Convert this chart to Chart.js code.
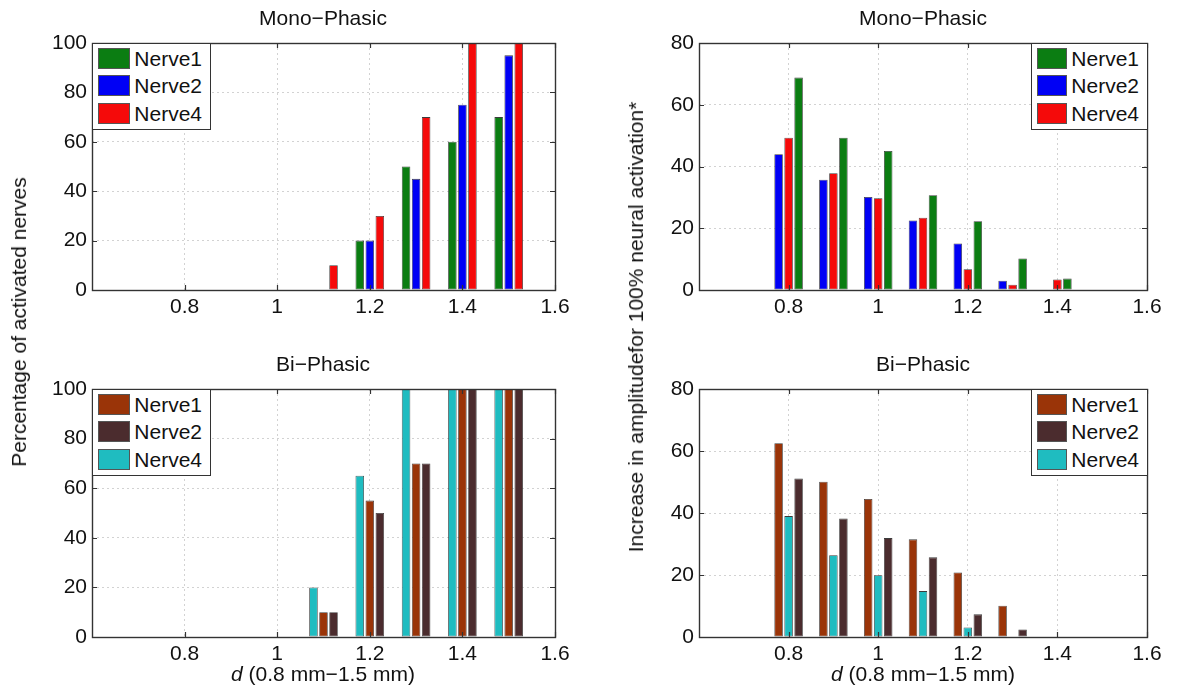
<!DOCTYPE html>
<html>
<head>
<meta charset="utf-8">
<script src="https://cdn.jsdelivr.net/npm/chart.js@4.4.1/dist/chart.umd.min.js"></script>
<style>
    body { margin: 0; background: #fff; font-family: "Liberation Sans", Helvetica, Arial, sans-serif; color: #111; }
    #page { position: relative; width: 1188px; height: 696px; overflow: hidden; }
    .panel { position: absolute; }
    .txt { position: absolute; font-size: 21px; line-height: 24px; white-space: nowrap; transform: translateX(-50%); }
    .ylab { position: absolute; font-size: 21px; line-height: 24px; white-space: nowrap; transform: translate(-50%, -50%) rotate(-90deg); }
    .legend { position: absolute; border: 1px solid #333; background: #fff; padding: 4px 8px 0 5px; box-sizing: border-box; }
    .legend .row { height: 27.3px; display: flex; align-items: flex-start; font-size: 21px; line-height: 21px; }
    .legend .sw { width: 33px; height: 21px; box-sizing: border-box; border: 1px solid #555; margin-right: 4px; }
</style>
</head>
<body>
<div id="page">
    <div class="panel" style="left:30px; top:25px;"><canvas id="monoPct" width="547" height="295"></canvas></div>
    <div class="panel" style="left:640px; top:25px;"><canvas id="monoAmp" width="529" height="295"></canvas></div>
    <div class="panel" style="left:30px; top:371px;"><canvas id="biPct" width="547" height="296"></canvas></div>
    <div class="panel" style="left:640px; top:371px;"><canvas id="biAmp" width="529" height="296"></canvas></div>

    <div class="txt" style="left:323px; top:6px;">Mono&minus;Phasic</div>
    <div class="txt" style="left:923px; top:6px;">Mono&minus;Phasic</div>
    <div class="txt" style="left:323px; top:352px;">Bi&minus;Phasic</div>
    <div class="txt" style="left:923px; top:352px;">Bi&minus;Phasic</div>

    <div class="txt" style="left:323px; top:662px;"><i>d</i> (0.8 mm&minus;1.5 mm)</div>
    <div class="txt" style="left:923px; top:662px;"><i>d</i> (0.8 mm&minus;1.5 mm)</div>

    <div class="ylab" style="left:19px; top:322px;">Percentage of activated nerves</div>
    <div class="ylab" style="left:636px; top:327px;">Increase in amplitudefor 100% neural activation*</div>

    <div class="legend" id="leg-monoPct" style="left:92px; top:43px; width:119px; height:87px;"></div>
    <div class="legend" id="leg-monoAmp" style="left:1031px; top:43px; width:117px; height:87px;"></div>
    <div class="legend" id="leg-biPct" style="left:92px; top:389px; width:119px; height:87px;"></div>
    <div class="legend" id="leg-biAmp" style="left:1031px; top:389px; width:117px; height:87px;"></div>
</div>

<script>
// electrode spacing d, group centres
const dValues = [0.7, 0.8, 0.9, 1.0, 1.1, 1.2, 1.3, 1.4, 1.5];
const xTicks = [0.8, 1.0, 1.2, 1.4, 1.6];
const xTickLabels = ['0.8', '1', '1.2', '1.4', '1.6'];
const pctTicks = [0, 20, 40, 60, 80, 100];
const ampTicks = [0, 20, 40, 60, 80];

// percentage of activated nerves
const monoPctNerve1 = [0, 0, 0, 0, 0, 20, 50, 60, 70];
const monoPctNerve2 = [0, 0, 0, 0, 0, 20, 45, 75, 95];
const monoPctNerve4 = [0, 0, 0, 0, 10, 30, 70, 100, 100];
const biPctNerve1 = [0, 0, 0, 0, 10, 55, 70, 100, 100];
const biPctNerve2 = [0, 0, 0, 0, 10, 50, 70, 100, 100];
const biPctNerve4 = [0, 0, 0, 0, 20, 65, 100, 100, 100];

// increase in amplitude for 100% activation
const monoAmpNerve1 = [0, 68.8, 49.3, 45.0, 30.7, 22.3, 10.2, 3.7, 0];
const monoAmpNerve2 = [0, 44.0, 35.7, 30.1, 22.5, 15.1, 3.0, 0, 0];
const monoAmpNerve4 = [0, 49.3, 37.8, 29.7, 23.4, 6.7, 1.7, 3.4, 0];
const biAmpNerve1 = [0, 62.5, 50.1, 44.5, 31.5, 20.8, 10.1, 0, 0];
const biAmpNerve2 = [0, 51.1, 38.2, 31.9, 25.7, 7.3, 2.4, 0, 0];
const biAmpNerve4 = [0, 39.0, 26.4, 19.9, 14.8, 3.1, 0, 0, 0];

const GREEN = '#0b7d12', BLUE = '#0000f5', RED = '#f50a0a';
const BROWN = '#9a3408', DARK = '#4b2c2e', CYAN = '#1fbcc0';

Chart.defaults.font.family = '"Liberation Sans", Helvetica, Arial, sans-serif';
Chart.defaults.font.size = 21;
Chart.defaults.color = '#111';

// box around the plot plus small inward tick marks, like matlab
const boxPlugin = {
    id: 'boxPlugin',
    afterDatasetsDraw(chart) {
        const ctx = chart.ctx;
        const a = chart.chartArea;
        const x = chart.scales.x, y = chart.scales.y;
        ctx.save();
        ctx.strokeStyle = '#333';
        ctx.lineWidth = 1.2;
        ctx.beginPath();
        x.ticks.forEach(t => {
            const px = Math.round(x.getPixelForValue(t.value)) + 0.5;
            ctx.moveTo(px, a.bottom); ctx.lineTo(px, a.bottom - 5);
            ctx.moveTo(px, a.top); ctx.lineTo(px, a.top + 5);
        });
        y.ticks.forEach(t => {
            const py = Math.round(y.getPixelForValue(t.value)) + 0.5;
            ctx.moveTo(a.left, py); ctx.lineTo(a.left + 5, py);
            ctx.moveTo(a.right, py); ctx.lineTo(a.right - 5, py);
        });
        ctx.stroke();
        ctx.lineWidth = 1.4;
        ctx.strokeRect(Math.round(a.left) + 0.5, Math.round(a.top) + 0.5,
            Math.round(a.right - a.left), Math.round(a.bottom - a.top));
        ctx.restore();
    }
};

function series(label, values, color) {
    return {
        label: label,
        data: dValues.map((d, i) => ({ x: d, y: values[i] })),
        backgroundColor: color,
        borderColor: '#3c3c3c',
        borderWidth: 0.8,
        borderSkipped: false
    };
}

function buildLegend(id, datasets) {
    const box = document.getElementById(id);
    const sorted = datasets.slice().sort((a, b) => a.label.localeCompare(b.label));
    sorted.forEach(ds => {
        const row = document.createElement('div');
        row.className = 'row';
        row.innerHTML = `<div class="sw" style="background:${ds.backgroundColor}"></div><span>${ds.label}</span>`;
        box.appendChild(row);
    });
}

function makeChart(id, datasets, yMax, yTicks, yAxisWidth, catPct) {
    buildLegend('leg-' + id, datasets);
    const ctx = document.getElementById(id).getContext('2d');
    return new Chart(ctx, {
        type: 'bar',
        data: { datasets: datasets },
        options: {
            responsive: false,
            animation: false,
            events: [],
            categoryPercentage: catPct,
            barPercentage: 0.85,
            layout: { padding: { top: 18, right: 22, left: 0, bottom: 0 } },
            plugins: { legend: { display: false }, tooltip: { enabled: false } },
            scales: {
                x: {
                    type: 'linear',
                    min: 0.6,
                    max: 1.6,
                    offset: false,
                    grid: { offset: false, color: '#d2d2d2', lineWidth: 1, drawTicks: false },
                    border: { display: false, dash: [2, 3] },
                    afterBuildTicks: scale => { scale.ticks = xTicks.map(v => ({ value: v })); },
                    afterFit: scale => { scale.height = 30; },
                    ticks: {
                        padding: 5,
                        maxRotation: 0,
                        callback: (value, index) => xTickLabels[index]
                    }
                },
                y: {
                    min: 0,
                    max: yMax,
                    grid: { color: '#d2d2d2', lineWidth: 1, drawTicks: false },
                    border: { display: false, dash: [2, 3] },
                    afterBuildTicks: scale => { scale.ticks = yTicks.map(v => ({ value: v })); },
                    afterFit: scale => { scale.width = yAxisWidth; },
                    ticks: { padding: 5, callback: value => String(value) }
                }
            }
        },
        plugins: [boxPlugin]
    });
}

makeChart('monoPct', [
    series('Nerve1', monoPctNerve1, GREEN),
    series('Nerve2', monoPctNerve2, BLUE),
    series('Nerve4', monoPctNerve4, RED)
], 100, pctTicks, 62, 0.65);

makeChart('monoAmp', [
    series('Nerve2', monoAmpNerve2, BLUE),
    series('Nerve4', monoAmpNerve4, RED),
    series('Nerve1', monoAmpNerve1, GREEN)
], 80, ampTicks, 59, 0.67);

makeChart('biPct', [
    series('Nerve4', biPctNerve4, CYAN),
    series('Nerve1', biPctNerve1, BROWN),
    series('Nerve2', biPctNerve2, DARK)
], 100, pctTicks, 62, 0.65);

makeChart('biAmp', [
    series('Nerve1', biAmpNerve1, BROWN),
    series('Nerve4', biAmpNerve4, CYAN),
    series('Nerve2', biAmpNerve2, DARK)
], 80, ampTicks, 59, 0.67);
</script>
</body>
</html>
